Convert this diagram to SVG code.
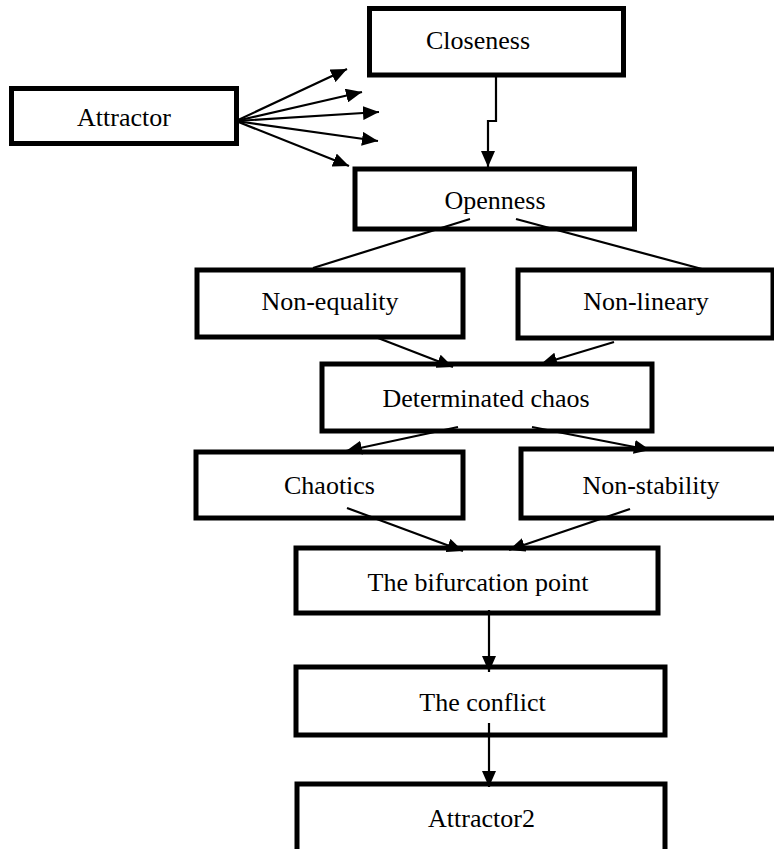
<svg xmlns="http://www.w3.org/2000/svg" width="774" height="849" viewBox="0 0 774 849">
<defs>
<style>
.box{fill:#fff;stroke:#000;stroke-width:5}
.lbl{font-family:"Liberation Serif","Times New Roman",serif;font-size:26px;fill:#000;text-anchor:middle}
.c{fill:none;stroke:#000;stroke-width:2.2}
.a{marker-end:url(#ah)}
</style>
<marker id="ah" markerUnits="userSpaceOnUse" markerWidth="16" markerHeight="14" refX="16" refY="7" orient="auto" viewBox="0 0 16 14">
<path d="M0,0 L16,7 L0,14 z" fill="#000"/>
</marker>
</defs>
<rect width="774" height="849" fill="#fff"/>
<g id="nodes">
<g id="attractor"><rect class="box" x="11.5" y="88.5" width="225" height="55"/><text class="lbl" x="124" y="126">Attractor</text></g>
<g id="closeness"><rect class="box" x="369.5" y="8.5" width="254" height="66.5"/><text class="lbl" x="478" y="49">Closeness</text></g>
<g id="openness"><rect class="box" x="355" y="169" width="279.5" height="60"/><text class="lbl" x="495" y="209">Openness</text></g>
<g id="nonequality"><rect class="box" x="197" y="270" width="266" height="67"/><text class="lbl" x="330" y="310">Non-equality</text></g>
<g id="nonlineary"><rect class="box" x="518" y="270" width="255" height="68"/><text class="lbl" x="646" y="310">Non-lineary</text></g>
<g id="determinated"><rect class="box" x="322" y="364" width="330" height="67"/><text class="lbl" x="486" y="407">Determinated chaos</text></g>
<g id="chaotics"><rect class="box" x="196" y="452" width="267" height="66"/><text class="lbl" x="329.5" y="494">Chaotics</text></g>
<g id="nonstability"><rect class="box" x="521" y="449" width="270" height="69"/><text class="lbl" x="651" y="494">Non-stability</text></g>
<g id="bifurcation"><rect class="box" x="296" y="548" width="362" height="65"/><text class="lbl" x="478" y="591">The bifurcation point</text></g>
<g id="conflict"><rect class="box" x="296" y="667" width="369" height="68"/><text class="lbl" x="482.5" y="711">The conflict</text></g>
<g id="attractor2"><rect class="box" x="297" y="784" width="368" height="68"/><text class="lbl" x="481.5" y="827">Attractor2</text></g>
</g>
<g id="connectors">
<line class="c a" x1="236" y1="121" x2="347" y2="69"/>
<line class="c a" x1="236" y1="121" x2="362" y2="92"/>
<line class="c a" x1="236" y1="121" x2="379" y2="112"/>
<line class="c a" x1="236" y1="121" x2="378" y2="141"/>
<line class="c a" x1="236" y1="121" x2="349" y2="166"/>
<polyline class="c a" points="496,77 496,121 488,121 488,167"/>
<line class="c" x1="470" y1="219" x2="313" y2="268"/>
<line class="c" x1="516" y1="219" x2="702" y2="269"/>
<line class="c a" x1="378" y1="338" x2="453" y2="367"/>
<line class="c a" x1="614" y1="342" x2="541" y2="364"/>
<line class="c a" x1="458" y1="427" x2="346" y2="451"/>
<line class="c a" x1="532" y1="427" x2="650" y2="450"/>
<line class="c a" x1="347" y1="508" x2="463" y2="551"/>
<line class="c a" x1="630" y1="509" x2="509" y2="550"/>
<line class="c a" x1="489" y1="610" x2="489" y2="672"/>
<line class="c a" x1="489" y1="723" x2="489" y2="787"/>
</g>
</svg>
